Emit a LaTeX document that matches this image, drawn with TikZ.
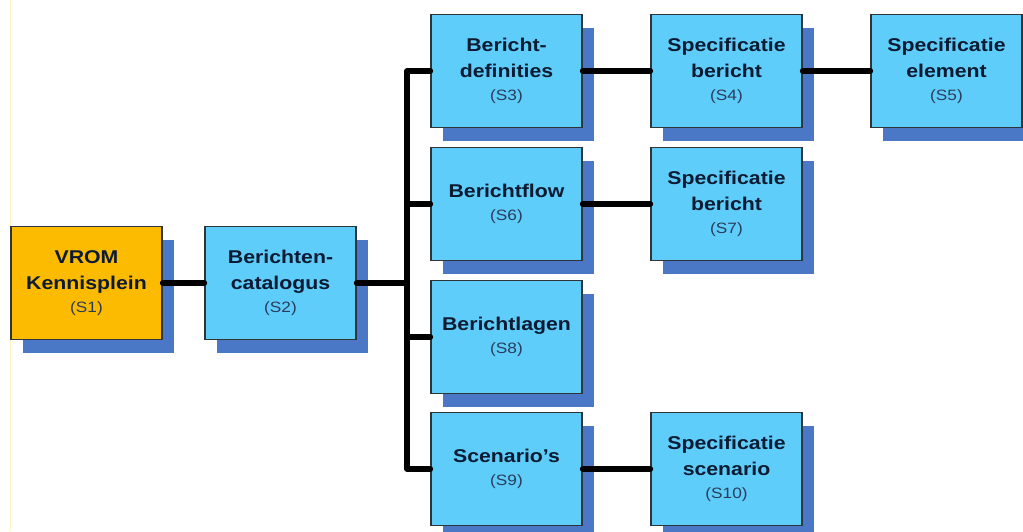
\documentclass[tikz,border=0pt]{standalone}
\usepackage{fontspec}
\setmainfont{Liberation Sans}[FakeStretch=1.15]
\usetikzlibrary{shadows}
\definecolor{boxblue}{HTML}{5FCDFA}
\definecolor{shadowblue}{HTML}{4A78C6}
\definecolor{boxorange}{HTML}{FDBB00}
\definecolor{boxborder}{HTML}{2E3438}
\definecolor{titlecol}{HTML}{0C1A32}
\definecolor{subcol}{HTML}{2A3C5C}
\definecolor{paleyellow}{HTML}{FFF6C8}
\begin{document}
\begin{tikzpicture}[x=1pt,y=-1pt,
  card/.style={draw=boxborder, line width=1.2pt, fill=boxblue,
    minimum width=151pt, minimum height=113pt, inner sep=0pt,
    align=center, text=titlecol,
    font=\fontsize{18.5}{25.5}\selectfont\bfseries,
    drop shadow={shadow xshift=12pt, shadow yshift=-13pt, opacity=1, fill=shadowblue}},
  rootcard/.style={card, fill=boxorange},
  link/.style={line width=5.5pt, line cap=round, line join=round, black}]
\useasboundingbox (0,0) rectangle (1023,531);
\fill[white] (0,0) rectangle (1023,531);
\draw[paleyellow, line width=1pt] (10,0) -- (10,531);
\newcommand{\sublbl}[1]{\\[-2.5pt]{\fontsize{15}{20}\selectfont\mdseries\color{subcol}(#1)}}
\node[rootcard] (s1) at (86.5,283) {VROM\\Kennisplein\sublbl{S1}};
\node[card] (s2) at (280.5,283) {Berichten-\\catalogus\sublbl{S2}};
\node[card] (s3) at (506.5,71) {Bericht-\\definities\sublbl{S3}};
\node[card] (s4) at (726.5,71) {Specificatie\\bericht\sublbl{S4}};
\node[card] (s5) at (946.5,71) {Specificatie\\element\sublbl{S5}};
\node[card] (s6) at (506.5,204) {Berichtflow\sublbl{S6}};
\node[card] (s7) at (726.5,204) {Specificatie\\bericht\sublbl{S7}};
\node[card] (s8) at (506.5,337) {Berichtlagen\sublbl{S8}};
\node[card] (s9) at (506.5,469) {Scenario’s\sublbl{S9}};
\node[card] (s10) at (726.5,469) {Specificatie\\scenario\sublbl{S10}};
\coordinate (top) at (407,71);
\coordinate (bot) at (407,469);
\coordinate (mid) at (407,283);
\draw[link] (s1.east) -- (s2.west);
\draw[link] (s2.east) -- (mid);
\draw[link] (s3.west) -- (top) -- (bot) -- (s9.west);
\draw[link] (s6.west) -- (s6.west -| top);
\draw[link] (s8.west) -- (s8.west -| top);
\draw[link] (s3.east) -- (s4.west);
\draw[link] (s4.east) -- (s5.west);
\draw[link] (s6.east) -- (s7.west);
\draw[link] (s9.east) -- (s10.west);
\end{tikzpicture}
\end{document}
